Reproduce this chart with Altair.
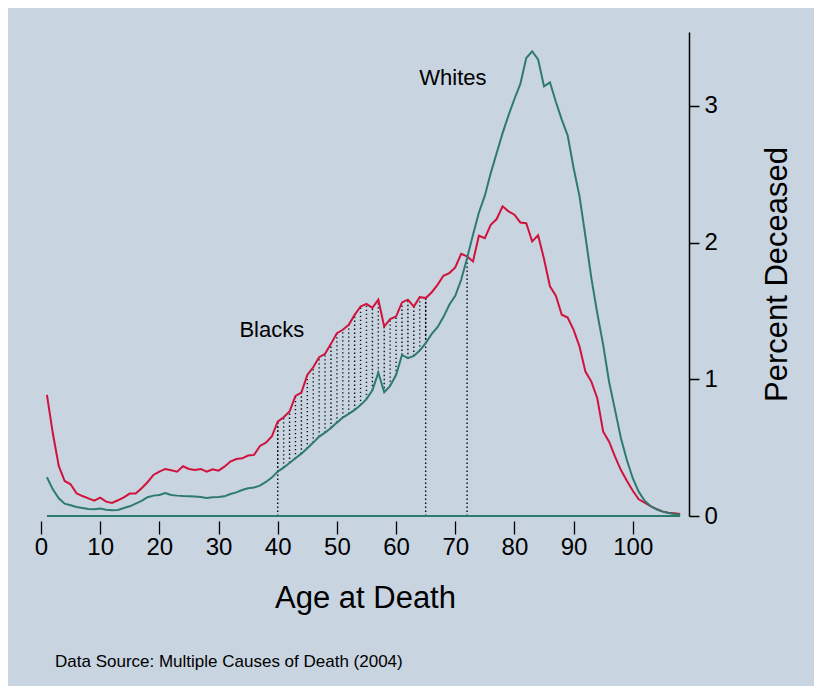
import altair as alt
import pandas as pd

# ---- data ----
ages = list(range(1, 109))
blacks = [0.886, 0.605, 0.366, 0.256, 0.232, 0.166, 0.146, 0.129, 0.112, 0.134,
          0.105, 0.096, 0.115, 0.137, 0.164, 0.164, 0.203, 0.247, 0.300, 0.324,
          0.344, 0.334, 0.324, 0.364, 0.344, 0.337, 0.344, 0.324, 0.342, 0.332,
          0.361, 0.398, 0.417, 0.422, 0.442, 0.447, 0.512, 0.537, 0.581, 0.690,
          0.722, 0.764, 0.878, 0.903, 1.032, 1.088, 1.162, 1.186, 1.259, 1.337,
          1.362, 1.398, 1.471, 1.532, 1.552, 1.523, 1.582, 1.386, 1.440, 1.459,
          1.562, 1.582, 1.532, 1.601, 1.594, 1.635, 1.691, 1.757, 1.777, 1.818,
          1.918, 1.899, 1.862, 2.050, 2.032, 2.130, 2.172, 2.265, 2.228, 2.204,
          2.147, 2.142, 2.008, 2.053, 1.880, 1.680, 1.611, 1.472, 1.452, 1.361,
          1.240, 1.056, 0.983, 0.861, 0.617, 0.544, 0.434, 0.336, 0.258, 0.185,
          0.122, 0.098, 0.073, 0.051, 0.034, 0.024, 0.020, 0.015]
whites = [0.283, 0.195, 0.129, 0.090, 0.078, 0.066, 0.059, 0.051, 0.049, 0.054,
          0.046, 0.042, 0.044, 0.059, 0.071, 0.090, 0.110, 0.137, 0.149, 0.154,
          0.168, 0.154, 0.149, 0.146, 0.144, 0.142, 0.139, 0.132, 0.137, 0.139,
          0.144, 0.161, 0.173, 0.190, 0.203, 0.208, 0.222, 0.249, 0.281, 0.325,
          0.354, 0.388, 0.422, 0.456, 0.495, 0.537, 0.581, 0.610, 0.644, 0.683,
          0.720, 0.747, 0.776, 0.811, 0.855, 0.920, 1.049, 0.905, 0.952, 1.031,
          1.178, 1.154, 1.171, 1.210, 1.264, 1.330, 1.381, 1.455, 1.545, 1.611,
          1.728, 1.886, 2.057, 2.220, 2.343, 2.508, 2.655, 2.800, 2.930, 3.050,
          3.160, 3.350, 3.399, 3.340, 3.143, 3.172, 3.030, 2.899, 2.782, 2.545,
          2.338, 2.045, 1.740, 1.483, 1.252, 0.980, 0.776, 0.569, 0.410, 0.276,
          0.178, 0.112, 0.073, 0.049, 0.032, 0.022, 0.015, 0.010]

band_ages = list(range(40, 66))      # dotted gap between the curves
marker_ages = [40, 65, 72]           # dotted drop lines to the axis

label_text = ["Blacks", "Whites"]
label_age = [39.0, 69.6]
label_val = [1.36, 3.20]

x_ticks = [0, 10, 20, 30, 40, 50, 60, 70, 80, 90, 100]
y_ticks = [0, 1, 2, 3]
source_note = "Data Source: Multiple Causes of Death (2004)"

RED = "#d0123c"
TEAL = "#2e7b6e"
BG = "#c8d4e0"
FONT = "Liberation Sans"

# ---- tables built from the arrays ----
df = pd.DataFrame({"age": ages, "Blacks": blacks, "Whites": whites})
long = df.melt("age", var_name="group", value_name="pct")
band = df[df["age"].isin(band_ages)]
markers = pd.DataFrame({"age": marker_ages,
                        "lo": [0.0] * len(marker_ages),
                        "hi": [blacks[ages.index(a)] for a in marker_ages]})
base = pd.DataFrame({"age": [ages[0]], "a1": [ages[-1]], "z": [0.0]})
labels = pd.DataFrame({"t": label_text, "age": label_age, "pct": label_val})
note = pd.DataFrame({"t": [source_note]})

xscale = alt.Scale(domain=[0, 109.5], nice=False, zero=False)
yscale = alt.Scale(domain=[0, 3.54], nice=False)

x_axis = alt.Axis(values=x_ticks, domain=False, grid=False, title="Age at Death",
                  tickColor="black", tickSize=13, tickWidth=1.3, offset=5,
                  labelFontSize=24, labelPadding=1, labelColor="black",
                  labelFlush=False,
                  labelFont=FONT, titleFont=FONT, titleFontSize=31,
                  titleFontWeight="normal", titleColor="black", titlePadding=24)
y_axis = alt.Axis(orient="right", values=y_ticks, grid=False, title="Percent Deceased",
                  domain=True, domainColor="black", domainWidth=1.5,
                  tickColor="black", tickSize=10, tickWidth=1.5,
                  labelFontSize=24, labelPadding=5, labelColor="black",
                  labelFlush=False,
                  labelFont=FONT, titleFont=FONT, titleFontSize=31,
                  titleFontWeight="normal", titleColor="black",
                  titleAngle=270, titleBaseline="top", titlePadding=45)

X = alt.X("age:Q", scale=xscale, axis=x_axis)

dots = alt.Chart(band).mark_rule(color="#111111", strokeWidth=1.4,
                                 strokeDash=[1.4, 2.6]).encode(
    x=X, y=alt.Y("Whites:Q", scale=yscale, axis=y_axis), y2="Blacks:Q")

drops = alt.Chart(markers).mark_rule(color="#111111", strokeWidth=1.4,
                                     strokeDash=[1.4, 2.6]).encode(
    x=X, y=alt.Y("lo:Q", scale=yscale, axis=y_axis), y2="hi:Q")

baseline = alt.Chart(base).mark_rule(color=TEAL, strokeWidth=2).encode(
    x=X, x2="a1:Q", y=alt.Y("z:Q", scale=yscale, axis=y_axis))

lines = alt.Chart(long).mark_line(strokeWidth=2).encode(
    x=X,
    y=alt.Y("pct:Q", scale=yscale, axis=y_axis),
    color=alt.Color("group:N", scale=alt.Scale(domain=["Blacks", "Whites"],
                                               range=[RED, TEAL]), legend=None),
    detail="group:N")

names = alt.Chart(labels).mark_text(fontSize=22, font=FONT, color="black",
                                    align="center", baseline="middle").encode(
    x=X, y=alt.Y("pct:Q", scale=yscale, axis=y_axis), text="t:N")

source = alt.Chart(note).mark_text(fontSize=17, font=FONT, color="black",
                                   align="left", baseline="middle").encode(
    x=alt.value(14), y=alt.value(630), text="t:N")

chart = alt.layer(dots, drops, baseline, lines, names, source).properties(
    width=648, height=484,
    padding={"left": 33, "top": 24, "right": 125, "bottom": 170},
    autosize=alt.AutoSizeParams(type="none"),
    background=BG,
).configure_view(stroke=None)

chart.save("out.html", embed_options={"renderer": "svg", "actions": False})
